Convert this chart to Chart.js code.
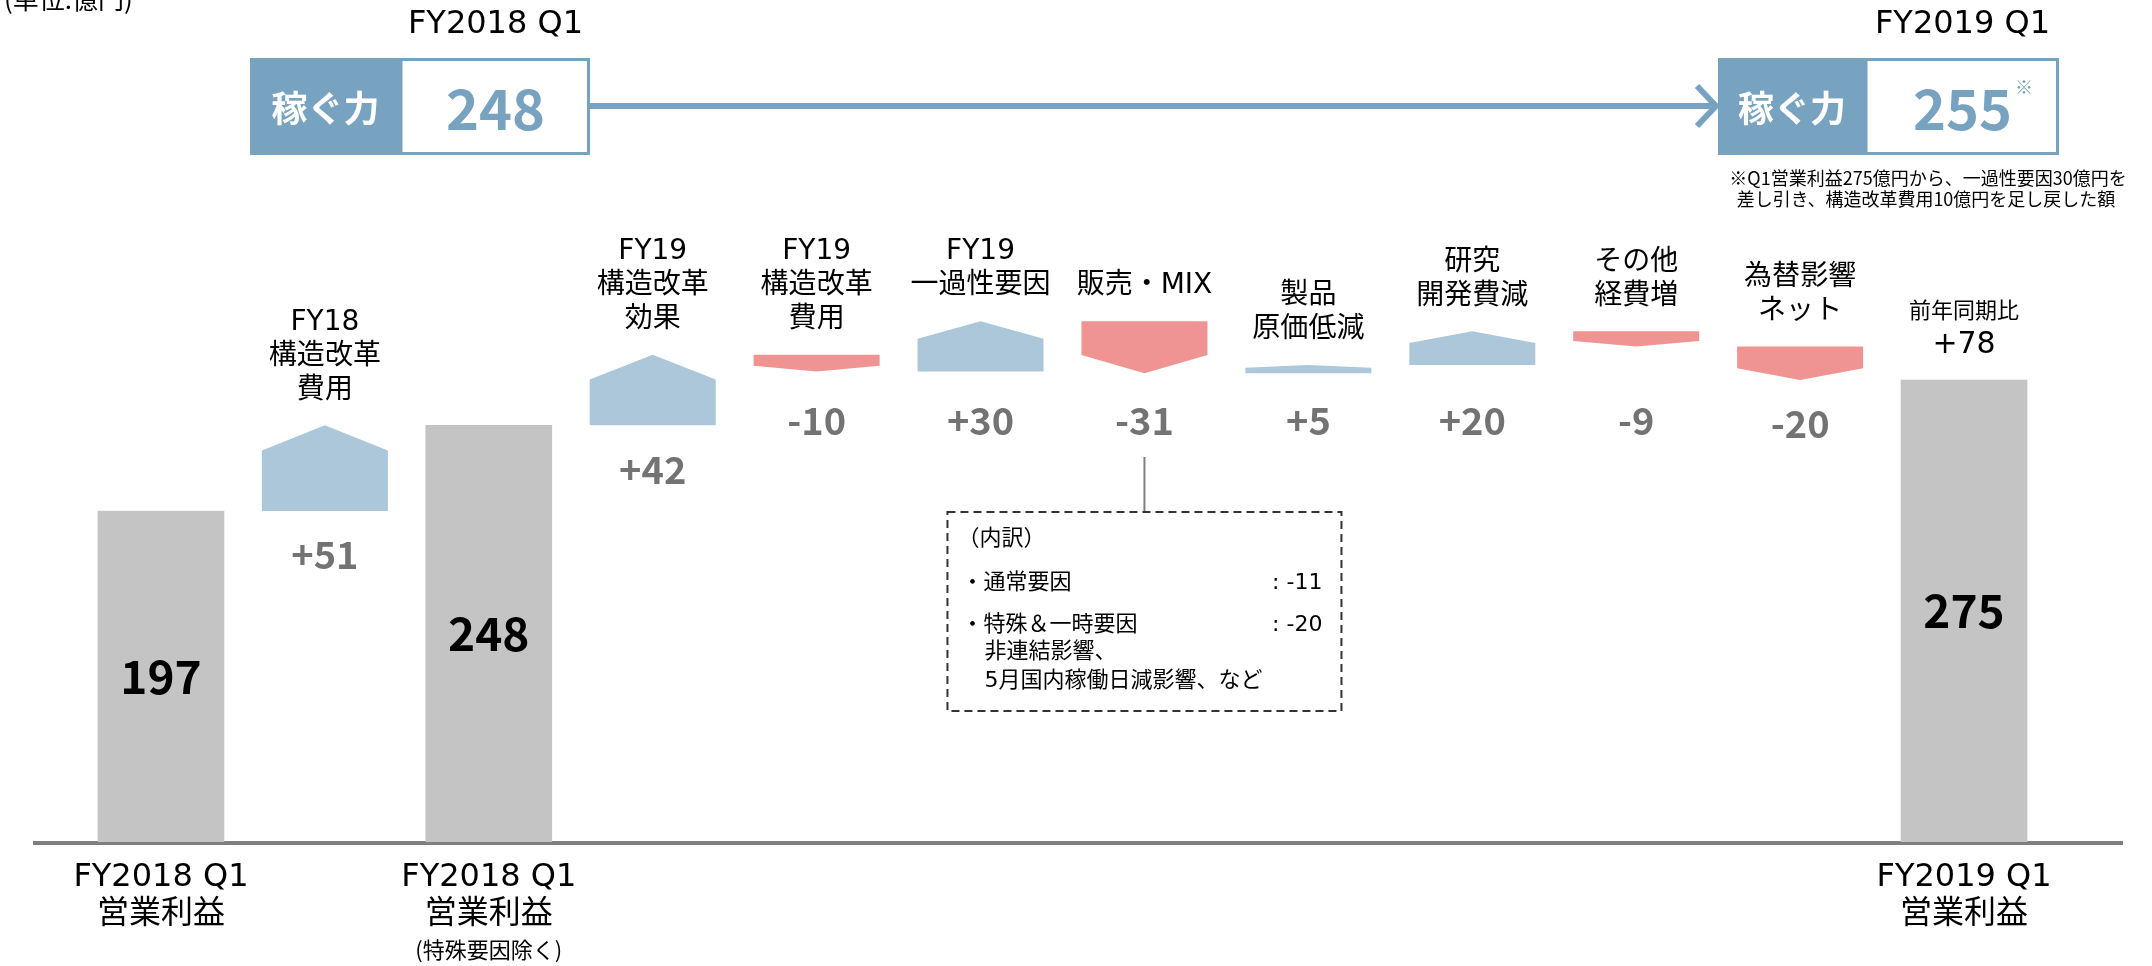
<!DOCTYPE html>
<html>
<head>
<meta charset="utf-8">
<script src="https://cdn.jsdelivr.net/npm/chart.js@4.4.0/dist/chart.umd.min.js"></script>
<style>
  html, body { margin: 0; padding: 0; background: #fff; }
  #wrap { width: 2152px; height: 966px; }
</style>
</head>
<body>
<div id="wrap"><canvas id="chart" width="2152" height="966"></canvas></div>
<script>
// データ（単位：億円）
const categories = ['FY2018 Q1 営業利益', 'FY18 構造改革費用', 'FY2018 Q1 営業利益（特殊要因除く）',
  'FY19 構造改革効果', 'FY19 構造改革費用', 'FY19 一過性要因', '販売・MIX', '製品原価低減',
  '研究開発費減', 'その他経費増', '為替影響ネット', 'FY2019 Q1 営業利益'];
const totals = [197, null, 248, null, null, null, null, null, null, null, null, 275];
const changes = [null, 51, null, 42, -10, 30, -31, 5, 20, -9, -20, null];

const changeLabels = [[], ['FY18', '構造改革', '費用'], [], ['FY19', '構造改革', '効果'],
  ['FY19', '構造改革', '費用'], ['FY19', '一過性要因'], ['販売・MIX'], ['製品', '原価低減'],
  ['研究', '開発費減'], ['その他', '経費増'], ['為替影響', 'ネット'], []];
const axisLabels = [['FY2018 Q1', '営業利益'], [], ['FY2018 Q1', '営業利益'], [], [], [], [], [], [], [], [], ['FY2019 Q1', '営業利益']];
const axisNotes = ['', '', '(特殊要因除く)', '', '', '', '', '', '', '', '', ''];

const earningPeriods = ['FY2018 Q1', 'FY2019 Q1'];
const earningPower = [248, 255];
const yoyChange = 78;
const mixIndex = 6;
const mixBreakdown = [['・通常要因', -11], ['・特殊＆一時要因', -20]];
const mixNotes = ['非連結影響、', '5月国内稼働日減影響、など'];
const footnote = ['※Q1営業利益275億円から、一過性要因30億円を', '差し引き、構造改革費用10億円を足し戻した額'];

// 色
const GRAY = '#c4c4c4';
const BLUE = '#abc7d9';
const RED = '#f09393';
const DARK_BLUE = '#77a3c1';
const LABEL_GRAY = '#737373';
const LATIN = '"DejaVu Sans", "Noto Sans CJK JP", sans-serif';
const JP = '"Noto Sans CJK JP", sans-serif';

// 滝グラフの浮き棒を作る
let running = 0;
const floating = changes.map((c, i) => {
  if (totals[i] != null) { running = totals[i]; return null; }
  const start = running;
  running += c;
  return [start, running];
});

function fmt(v) { return (v > 0 ? '+' : '') + v; }

const waterfallPlugin = {
  id: 'waterfall',
  beforeDatasetsDraw(chart) {
    const ctx = chart.ctx;
    const y0 = chart.scales.y.getPixelForValue(0);
    ctx.save();
    ctx.strokeStyle = '#7f7f7f';
    ctx.lineWidth = 4;
    ctx.beginPath();
    ctx.moveTo(33, y0 + 1);
    ctx.lineTo(2123, y0 + 1);
    ctx.stroke();
    ctx.restore();
  },
  afterDatasetsDraw(chart) {
    const ctx = chart.ctx;
    const totalMeta = chart.getDatasetMeta(0);
    const stepMeta = chart.getDatasetMeta(1);
    ctx.save();

    // 増減の矢印形
    stepMeta.data.forEach((bar, i) => {
      const c = changes[i];
      if (c == null) return;
      const l = bar.x - bar.width / 2, r = bar.x + bar.width / 2;
      const top = Math.min(bar.y, bar.base), bottom = Math.max(bar.y, bar.base);
      const h = bottom - top;
      const tip = Math.min(bar.width * 0.2, h * 0.35);
      ctx.fillStyle = c > 0 ? BLUE : RED;
      ctx.beginPath();
      if (c > 0) {
        ctx.moveTo(l, bottom); ctx.lineTo(l, top + tip); ctx.lineTo(bar.x, top);
        ctx.lineTo(r, top + tip); ctx.lineTo(r, bottom);
      } else {
        ctx.moveTo(l, top); ctx.lineTo(r, top); ctx.lineTo(r, bottom - tip);
        ctx.lineTo(bar.x, bottom); ctx.lineTo(l, bottom - tip);
      }
      ctx.closePath();
      ctx.fill();

      // 上の項目名
      ctx.fillStyle = '#000';
      ctx.textAlign = 'center';
      ctx.textBaseline = 'middle';
      ctx.font = '28px ' + LATIN;
      const lines = changeLabels[i];
      lines.forEach((t, k) => {
        ctx.fillText(t, bar.x, top - 35 - (lines.length - 1 - k) * 34);
      });

      // 下の数値
      ctx.fillStyle = LABEL_GRAY;
      ctx.font = 'bold 38px ' + JP;
      ctx.fillText(fmt(c), bar.x, Math.max(bottom + 44, 421));
    });

    // 合計棒の数値と軸ラベル
    totalMeta.data.forEach((bar, i) => {
      if (totals[i] == null) return;
      ctx.fillStyle = '#000';
      ctx.textAlign = 'center';
      ctx.textBaseline = 'middle';
      ctx.font = 'bold 46px ' + JP;
      ctx.fillText(String(totals[i]), bar.x, (bar.y + bar.base) / 2);

      ctx.font = '32px ' + LATIN;
      axisLabels[i].forEach((t, k) => ctx.fillText(t, bar.x, 878 + k * 37));
      if (axisNotes[i]) {
        ctx.font = '22px ' + JP;
        ctx.fillText(axisNotes[i], bar.x, 950);
      }
    });

    // 前年同期比
    const last = totalMeta.data[totals.length - 1];
    ctx.fillStyle = '#000';
    ctx.font = '22px ' + JP;
    ctx.fillText('前年同期比', last.x, last.y - 70);
    ctx.font = '30px ' + LATIN;
    ctx.fillText(fmt(yoyChange), last.x, last.y - 35);

    // 販売・MIX の内訳
    const mix = stepMeta.data[mixIndex];
    const bx = mix.x - 197, bw = 394, by = 512, bh = 199;
    ctx.strokeStyle = '#7f7f7f';
    ctx.lineWidth = 2;
    ctx.setLineDash([]);
    ctx.beginPath();
    ctx.moveTo(mix.x, 457); ctx.lineTo(mix.x, by);
    ctx.stroke();
    ctx.strokeStyle = '#333';
    ctx.setLineDash([8, 5]);
    ctx.strokeRect(bx, by, bw, bh);
    ctx.setLineDash([]);

    ctx.fillStyle = '#000';
    ctx.textAlign = 'left';
    ctx.font = '22px ' + LATIN;
    ctx.fillText('（内訳）', bx + 10, 539);
    mixBreakdown.forEach((row, k) => {
      const y = 583 + k * 42;
      ctx.textAlign = 'left';
      ctx.fillText(row[0], bx + 14, y);
      ctx.textAlign = 'right';
      ctx.fillText(': ' + row[1], bx + bw - 19, y);
    });
    ctx.textAlign = 'left';
    mixNotes.forEach((t, k) => ctx.fillText(t, bx + 37, 652 + k * 29));

    ctx.restore();
  },
  afterDraw(chart) {
    const ctx = chart.ctx;
    ctx.save();
    ctx.textAlign = 'left';
    ctx.fillStyle = '#000';
    ctx.font = '26px ' + JP;
    ctx.textBaseline = 'alphabetic';
    ctx.fillText('(単位:億円)', 4, 9);

    // 稼ぐ力ボックス
    const boxes = [{ x: 250, dark: 151, w: 340 }, { x: 1718, dark: 148, w: 341 }];
    boxes.forEach((b, k) => {
      const y = 58, h = 97;
      ctx.fillStyle = DARK_BLUE;
      ctx.fillRect(b.x, y, b.dark, h);
      ctx.strokeStyle = DARK_BLUE;
      ctx.lineWidth = 3;
      ctx.strokeRect(b.x + b.dark, y + 1.5, b.w - b.dark - 1.5, h - 3);
      ctx.textAlign = 'center';
      ctx.textBaseline = 'middle';
      ctx.fillStyle = '#fff';
      ctx.font = 'bold 36px ' + JP;
      ctx.fillText('稼ぐ力', b.x + b.dark / 2, y + h / 2 + 2);
      const cx = b.x + b.dark + (b.w - b.dark) / 2;
      ctx.fillStyle = DARK_BLUE;
      ctx.font = 'bold 56px ' + JP;
      const txt = String(earningPower[k]);
      ctx.fillText(txt, cx, y + h / 2 + 2);
      if (k === 1) {
        const tw = ctx.measureText(txt).width;
        ctx.font = '18px ' + JP;
        ctx.fillText('※', cx + tw / 2 + 12, 87);
      }
      ctx.fillStyle = '#000';
      ctx.textAlign = 'center';
      ctx.font = '32px ' + LATIN;
      ctx.fillText(earningPeriods[k], cx, 25);
    });

    // 矢印
    ctx.strokeStyle = DARK_BLUE;
    ctx.lineWidth = 6;
    ctx.beginPath();
    ctx.moveTo(590, 106); ctx.lineTo(1712, 106);
    ctx.stroke();
    ctx.beginPath();
    ctx.moveTo(1697, 86); ctx.lineTo(1716, 106); ctx.lineTo(1697, 126);
    ctx.stroke();

    // 注記
    ctx.fillStyle = '#000';
    ctx.font = '18px ' + JP;
    ctx.fillText(footnote[0], 1928, 178);
    ctx.fillText(footnote[1], 1926, 199);
    ctx.restore();
  }
};

new Chart(document.getElementById('chart'), {
  type: 'bar',
  data: {
    labels: categories,
    datasets: [
      { data: totals, backgroundColor: GRAY, grouped: false, barThickness: 126 },
      { data: floating, backgroundColor: 'rgba(0,0,0,0)', grouped: false, barThickness: 126 }
    ]
  },
  options: {
    responsive: false,
    animation: false,
    layout: { padding: { left: 79, right: 106, top: 170, bottom: 124 } },
    plugins: { legend: { display: false }, tooltip: { enabled: false } },
    scales: {
      x: { display: false },
      y: { display: false, min: 0, max: 400 }
    }
  },
  plugins: [waterfallPlugin]
});
</script>
</body>
</html>
